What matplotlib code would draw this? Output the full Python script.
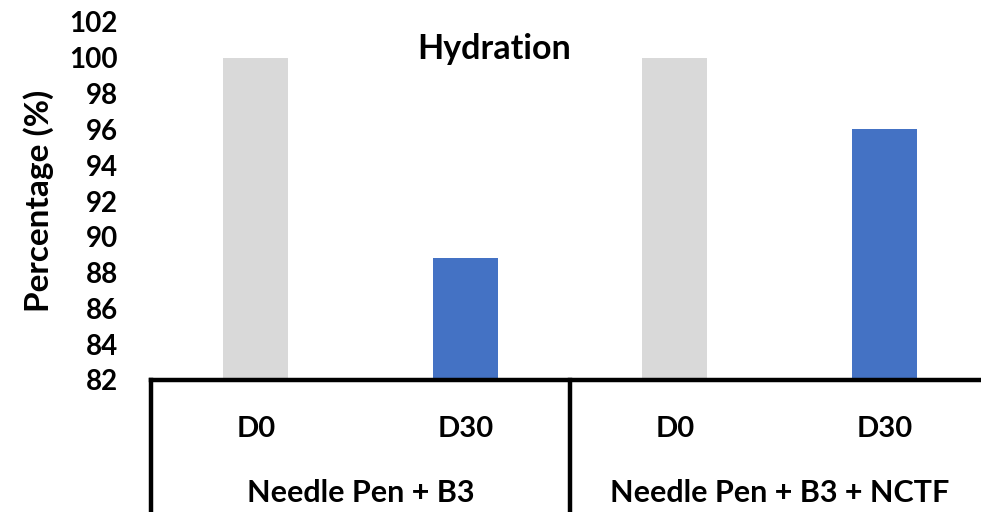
import matplotlib
matplotlib.use("Agg")
import matplotlib.pyplot as plt
import matplotlib.transforms as mtransforms

plt.rcParams['font.family'] = ['Lato', 'DejaVu Sans']

categories = ["D0", "D30", "D0", "D30"]
groups = ["Needle Pen + B3", "Needle Pen + B3 + NCTF"]
values = [100.0, 88.8, 100.0, 96.0]
colors = ["#D9D9D9", "#4472C4", "#D9D9D9", "#4472C4"]
yticks = list(range(82, 103, 2))

fig = plt.figure(figsize=(9.81, 5.12), dpi=100)
ax = fig.add_axes([151/981, 132/512, 838/981, 358/512])

x = list(range(len(values)))
ax.bar(x, [v - 82 for v in values], bottom=82, width=0.31, color=colors, zorder=2)
ax.set_xlim(-0.5, 3.5)
ax.set_ylim(82, 102)
ax.set_yticks(yticks)
ax.set_yticklabels([str(t) for t in yticks], fontsize=20, fontweight='bold')
ax.tick_params(axis='y', length=0, pad=24)
ax.set_xticks(x)
ax.set_xticklabels(categories, fontsize=21, fontweight='bold')
ax.tick_params(axis='x', length=0, pad=26)

for s in ['top', 'right', 'left']:
    ax.spines[s].set_visible(False)
ax.spines['bottom'].set_linewidth(3.2)
ax.spines['bottom'].set_color('black')
ax.spines['bottom'].set_capstyle('projecting')

ax.set_ylabel("Percentage (%)", fontsize=24, fontweight='bold', labelpad=11)
h = 358.0
ax.text((494 - 151) / 838, (380 - 59) / h, "Hydration", transform=ax.transAxes,
        ha='center', va='baseline', fontsize=24.5, fontweight='bold')

trans = mtransforms.blended_transform_factory(ax.transData, ax.transAxes)
for xv in [-0.5, 1.5, 3.5]:
    ax.plot([xv, xv], [0, -1.2], transform=trans, color='black', lw=3.2, clip_on=False,
            solid_capstyle='projecting')

for i, g in enumerate(groups):
    ax.text(0.5 + 2 * i, -(502 - 380) / h, g, transform=trans, ha='center', va='baseline',
            fontsize=22, fontweight='bold')

fig.savefig("out.png", dpi=100)
